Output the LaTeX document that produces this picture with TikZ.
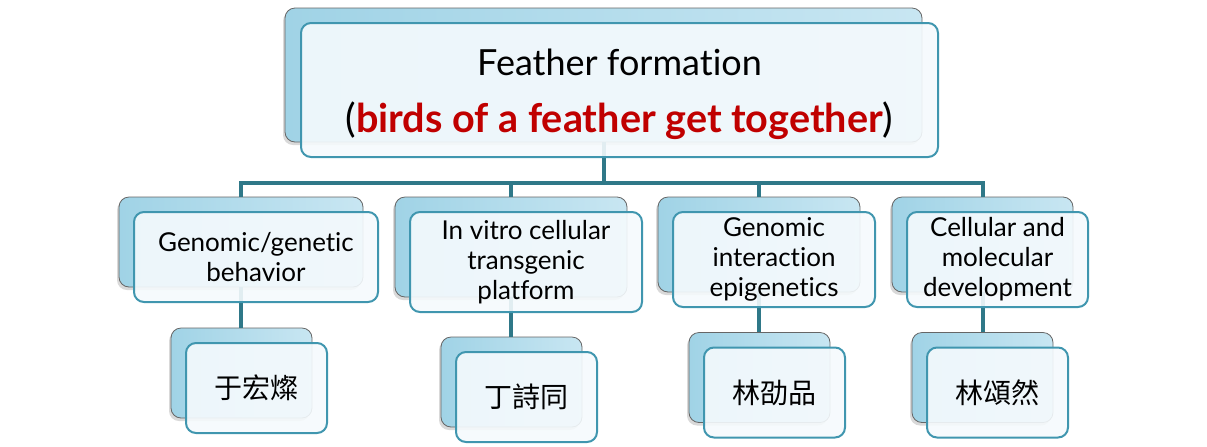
\documentclass[tikz,border=0pt]{standalone}
\usepackage{fontspec}
\setmainfont{Lato}[Ligatures={NoCommon,NoRare,NoContextual}]
\newfontfamily\cjk{Noto Sans CJK TC}
\usetikzlibrary{shadows}
\definecolor{conncol}{RGB}{47,120,136}
\definecolor{frontborder}{RGB}{64,150,175}
\definecolor{backL}{RGB}{160,211,230}
\definecolor{backR}{RGB}{200,230,242}
\definecolor{frontfill}{RGB}{245,250,253}
\definecolor{darkred}{RGB}{192,0,0}
\tikzset{
  conn/.style={draw=conncol, line width=2pt},
  backbox/.style={rectangle, rounded corners=5pt, draw=black!60, line width=0.4pt,
    left color=backL, right color=backR,
    drop shadow={shadow xshift=-1pt, shadow yshift=-1.5pt, opacity=0.3}},
  frontbox/.style={rectangle, rounded corners=5pt, draw=frontborder, line width=1pt,
    fill=frontfill, fill opacity=0.9, text opacity=1, align=center, inner sep=0pt},
  midtext/.style={font=\fontsize{13pt}{15pt}\selectfont},
  cjktext/.style={font=\cjk\fontsize{14pt}{16pt}\selectfont},
}
\begin{document}
\begin{tikzpicture}[x=0.5pt,y=-0.5pt]
\useasboundingbox (0,0) rectangle (1207,446);
\coordinate (bus) at (0,183);
% back boxes
\node[backbox, minimum width=318.5pt, minimum height=67pt] (tb) at (603.5,75) {};
\node[backbox, minimum width=122pt, minimum height=45pt] (b1) at (241,242) {};
\node[backbox, minimum width=116pt, minimum height=50pt] (b2) at (511,247) {};
\node[backbox, minimum width=101pt, minimum height=47.5pt] (b3) at (759,244.5) {};
\node[backbox, minimum width=90.5pt, minimum height=47.5pt] (b4) at (982.5,244.5) {};
\node[backbox, minimum width=70.5pt, minimum height=45pt] (c1) at (241.5,373) {};
\node[backbox, minimum width=70.5pt, minimum height=45pt] (c2) at (511.5,382) {};
\node[backbox, minimum width=70.5pt, minimum height=45pt] (c3) at (759.5,377.5) {};
\node[backbox, minimum width=70.5pt, minimum height=45pt] (c4) at (982.5,377.5) {};
% connectors
\draw[conn] (tb.south) -- (tb.south |- bus);
\draw[conn] (b1.north) -- (b1.north |- bus) -- (b4.north |- bus) -- (b4.north);
\draw[conn] (b2.north) -- (b2.north |- bus);
\draw[conn] (b3.north) -- (b3.north |- bus);
\draw[conn] (b1.south) -- (b1.south |- c1.north);
\draw[conn] (b2.south) -- (b2.south |- c2.north);
\draw[conn] (b3.south) -- (b3.south |- c3.north);
\draw[conn] (b4.south) -- (b4.south |- c4.north);
% front boxes
\node[frontbox, minimum width=318.5pt, minimum height=67pt,
  font=\fontsize{18pt}{26pt}\selectfont] (tf) at ([shift={(16,15)}]tb.center)
  {\rule{0pt}{18pt}Feather formation\\[2.5pt]{\fontsize{19.8pt}{28pt}\selectfont(\textcolor{darkred}{\bfseries birds of a feather get together})}};
\node[frontbox, midtext, minimum width=122pt, minimum height=45pt] (f1) at ([shift={(15,15)}]b1.center) {Genomic/genetic\\behavior};
\node[frontbox, midtext, minimum width=116pt, minimum height=50pt] (f2) at ([shift={(15,15)}]b2.center) {In vitro cellular\\transgenic\\platform};
\node[frontbox, midtext, minimum width=101pt, minimum height=47.5pt] (f3) at ([shift={(15,15)}]b3.center) {Genomic\\interaction\\epigenetics};
\node[frontbox, midtext, minimum width=90.5pt, minimum height=47.5pt] (f4) at ([shift={(15,15)}]b4.center) {Cellular and\\molecular\\development};
\node[frontbox, cjktext, minimum width=70.5pt, minimum height=45pt] (g1) at ([shift={(15,15)}]c1.center) {于宏燦};
\node[frontbox, cjktext, minimum width=70.5pt, minimum height=45pt] (g2) at ([shift={(15,15)}]c2.center) {丁詩同};
\node[frontbox, cjktext, minimum width=70.5pt, minimum height=45pt] (g3) at ([shift={(15,15)}]c3.center) {林劭品};
\node[frontbox, cjktext, minimum width=70.5pt, minimum height=45pt] (g4) at ([shift={(15,15)}]c4.center) {林頌然};
\end{tikzpicture}
\end{document}
